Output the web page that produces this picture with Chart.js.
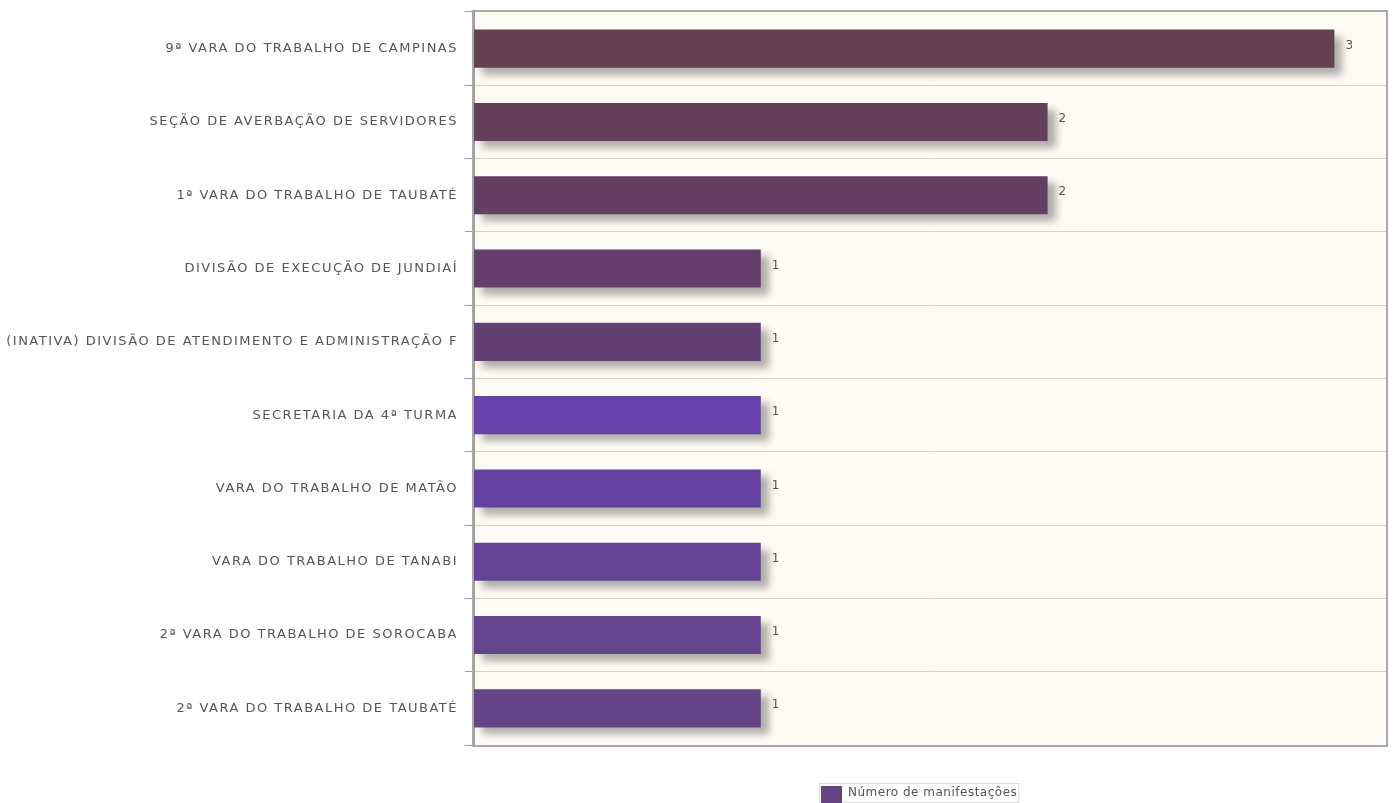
<!DOCTYPE html>
<html>
<head>
<meta charset="utf-8">
<script src="https://cdn.jsdelivr.net/npm/chart.js@4/dist/chart.umd.min.js"></script>
<style>
  html, body { margin: 0; padding: 0; background: #fff; }
  #wrap { width: 1393px; height: 803px; }
</style>
</head>
<body>
<div id="wrap"><canvas id="chart"></canvas></div>
<script>
// data
const categories = [
    '9ª VARA DO TRABALHO DE CAMPINAS',
    'SEÇÃO DE AVERBAÇÃO DE SERVIDORES',
    '1ª VARA DO TRABALHO DE TAUBATÉ',
    'DIVISÃO DE EXECUÇÃO DE JUNDIAÍ',
    '(INATIVA) DIVISÃO DE ATENDIMENTO E ADMINISTRAÇÃO F',
    'SECRETARIA DA 4ª TURMA',
    'VARA DO TRABALHO DE MATÃO',
    'VARA DO TRABALHO DE TANABI',
    '2ª VARA DO TRABALHO DE SOROCABA',
    '2ª VARA DO TRABALHO DE TAUBATÉ'
];
const manifestacoes = [3, 2, 2, 1, 1, 1, 1, 1, 1, 1];
const barColors = ['#654152', '#64405b', '#643f62', '#633f6a', '#634073',
                   '#6543a9', '#6443a0', '#634496', '#63448d', '#634485'];
const seriesLabel = 'Número de manifestações';

const FONT = '"DejaVu Sans", sans-serif';

// cream background + grey frame round the plot
const plotFrame = {
    id: 'plotFrame',
    beforeDraw(chart) {
        const { ctx, chartArea: a } = chart;
        ctx.save();
        ctx.fillStyle = '#fffcf5';
        ctx.fillRect(a.left, a.top, a.right - a.left, a.bottom - a.top);
        ctx.restore();
        // wide-tracked lettering like the original
        ctx.letterSpacing = '1.5px';
    },
    afterDatasetsDraw(chart) {
        const { ctx, chartArea: a } = chart;
        ctx.save();
        ctx.strokeStyle = '#a8a8a8';
        ctx.lineWidth = 2;
        ctx.strokeRect(a.left - 1, a.top - 1, a.right - a.left + 2, a.bottom - a.top + 2);
        ctx.restore();
    }
};

// soft drop shadow under the bars
const barShadow = {
    id: 'barShadow',
    beforeDatasetDraw(chart) {
        const ctx = chart.ctx;
        ctx.save();
        ctx.shadowColor = 'rgba(0,0,0,0.32)';
        ctx.shadowBlur = 8;
        ctx.shadowOffsetX = 8;
        ctx.shadowOffsetY = 7;
    },
    afterDatasetDraw(chart) {
        chart.ctx.restore();
    }
};

// value after each bar
const valueLabels = {
    id: 'valueLabels',
    afterDatasetsDraw(chart) {
        const ctx = chart.ctx;
        const meta = chart.getDatasetMeta(0);
        ctx.save();
        ctx.letterSpacing = '0px';
        ctx.font = '12px ' + FONT;
        ctx.fillStyle = '#555';
        ctx.textBaseline = 'middle';
        meta.data.forEach((bar, i) => {
            ctx.fillText(String(manifestacoes[i]), bar.x + 11, bar.y - 3);
        });
        ctx.restore();
    }
};

// legend drawn by hand below the plot
const bottomLegend = {
    id: 'bottomLegend',
    afterDraw(chart) {
        const ctx = chart.ctx;
        ctx.save();
        ctx.letterSpacing = '0.5px';
        ctx.font = '12px ' + FONT;
        const tw = ctx.measureText(seriesLabel).width;
        const x = 819, y = 783;
        ctx.strokeStyle = '#dcdcdc';
        ctx.lineWidth = 1;
        ctx.strokeRect(x + 0.5, y + 0.5, 24 + 4 + tw + 2, 19);
        ctx.fillStyle = '#634485';
        ctx.fillRect(x + 2, y + 3, 21, 17);
        ctx.fillStyle = '#555';
        ctx.textBaseline = 'middle';
        ctx.fillText(seriesLabel, x + 29, y + 10);
        ctx.restore();
    }
};

new Chart(document.getElementById('chart'), {
    type: 'bar',
    data: {
        labels: categories,
        datasets: [{
            label: seriesLabel,
            data: manifestacoes,
            backgroundColor: barColors,
            borderWidth: 0,
            categoryPercentage: 1,
            barPercentage: 0.52
        }]
    },
    options: {
        indexAxis: 'y',
        responsive: true,
        maintainAspectRatio: false,
        animation: false,
        layout: { padding: { left: 0, right: 7, top: 12, bottom: 58 } },
        plugins: {
            legend: { display: false },
            tooltip: { enabled: false }
        },
        scales: {
            x: {
                display: false,
                min: 0,
                max: 3.18
            },
            y: {
                afterFit(scale) {
                    scale.width = 474;
                    scale.paddingTop = 0;
                    scale.paddingBottom = 0;
                },
                grid: {
                    offset: true,
                    color: '#d2d2d2',
                    tickColor: '#999',
                    tickLength: 9,
                    lineWidth: 1
                },
                border: { display: true, color: '#999', width: 2 },
                ticks: {
                    color: '#555',
                    padding: 7,
                    font: { family: FONT, size: 13 }
                }
            }
        }
    },
    plugins: [plotFrame, barShadow, valueLabels, bottomLegend]
});
</script>
</body>
</html>
